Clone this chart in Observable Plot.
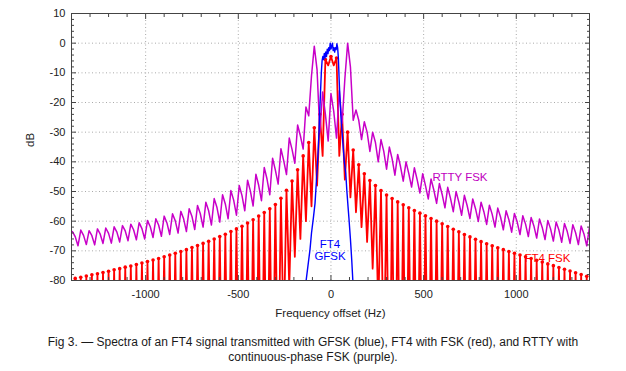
<!DOCTYPE html>
<html><head><meta charset="utf-8">
<script src="https://cdn.jsdelivr.net/npm/d3@7"></script>
<script src="https://cdn.jsdelivr.net/npm/@observablehq/plot@0.6"></script>
<style>
body{margin:0;background:#fff;font-family:"Liberation Sans",Arial,sans-serif;}
#caption{width:626px;text-align:center;font-size:12px;line-height:15px;color:#1a1a1a;}
</style></head><body>
<div id="chart"></div>
<div id="caption">Fig 3. — Spectra of an FT4 signal transmitted with GFSK (blue), FT4 with FSK (red), and RTTY with<br>continuous-phase FSK (purple).</div>
<script>
// Frequency bins (Hz) shared by the FT4-FSK and RTTY spectra
const gridHz = [
-1395,-1380,-1365,-1350,-1335,-1320,-1305,-1290,-1275,-1260,-1245,-1230,
-1215,-1200,-1185,-1170,-1155,-1140,-1125,-1110,-1095,-1080,-1065,-1050,
-1035,-1020,-1005,-990,-975,-960,-945,-930,-915,-900,-885,-870,
-855,-840,-825,-810,-795,-780,-765,-750,-735,-720,-705,-690,
-675,-660,-645,-630,-615,-600,-585,-570,-555,-540,-525,-510,
-495,-480,-465,-450,-435,-420,-405,-390,-375,-360,-345,-330,
-315,-300,-285,-270,-255,-240,-225,-210,-195,-180,-165,-150,
-135,-120,-105,-90,-75,-60,-45,-30,-15,0,15,30,
45,60,75,90,105,120,135,150,165,180,195,210,
225,240,255,270,285,300,315,330,345,360,375,390,
405,420,435,450,465,480,495,510,525,540,555,570,
585,600,615,630,645,660,675,690,705,720,735,750,
765,780,795,810,825,840,855,870,885,900,915,930,
945,960,975,990,1005,1020,1035,1050,1065,1080,1095,1110,
1125,1140,1155,1170,1185,1200,1215,1230,1245,1260,1275,1290,
1305,1320,1335,1350,1365,1380,1395];

// FT4 with FSK (red), dB (spectral nulls fall far below the -80 dB floor)
const ft4FskDb = [
-130,-79.3,-130,-78.9,-130,-78.5,-130,-78.1,-130,-77.7,-130,-77.3,
-130,-76.9,-130,-76.4,-130,-76.0,-130,-75.5,-130,-75.1,-130,-74.6,
-130,-74.1,-130,-73.6,-130,-73.1,-130,-72.6,-130,-72.0,-130,-71.4,
-130,-70.8,-130,-70.2,-130,-69.6,-130,-68.9,-130,-68.2,-130,-67.5,
-130,-66.8,-130,-66.0,-130,-65.2,-130,-64.4,-130,-63.5,-130,-62.6,
-130,-61.7,-130,-60.6,-130,-59.5,-130,-58.3,-130,-57.1,-130,-55.8,
-130,-54.4,-120,-52.3,-100,-49.6,-82,-46.5,-72,-42.7,-66,-38.0,
-60,-33.5,-55,-28.5,-48,-24.0,-38,-5.5,-7.5,-4.5,-7.5,-5.0,
-38,-24.0,-46,-30.0,-52,-36.0,-57,-41.0,-62,-44.0,-67,-46.3,
-76,-48.0,-90,-49.7,-110,-51.2,-130,-52.4,-130,-53.5,-130,-54.5,
-130,-55.5,-130,-56.4,-130,-57.3,-130,-58.2,-130,-59.1,-130,-60.0,
-130,-60.9,-130,-61.8,-130,-62.7,-130,-63.6,-130,-64.5,-130,-65.3,
-130,-66.1,-130,-66.9,-130,-67.6,-130,-68.3,-130,-69.0,-130,-69.6,
-130,-70.2,-130,-70.8,-130,-71.4,-130,-72.0,-130,-72.6,-130,-73.2,
-130,-73.8,-130,-74.4,-130,-75.0,-130,-75.6,-130,-76.2,-130,-76.8,
-130,-77.4,-130,-78.0,-130,-78.6,-130];

// RTTY continuous-phase FSK (purple), dB
const rttyDb = [
-63.5,-65.2,-68.3,-63.0,-64.8,-67.9,-63.2,-64.9,-68.0,-62.6,-64.4,-67.5,
-62.3,-64.1,-67.4,-61.9,-63.7,-67.0,-61.5,-63.3,-66.6,-61.0,-62.9,-66.3,
-60.5,-62.5,-66.0,-59.8,-61.9,-65.5,-59.2,-61.3,-65.1,-58.3,-60.6,-64.5,
-57.5,-59.9,-64.0,-56.7,-59.2,-63.5,-55.8,-58.4,-62.8,-54.7,-57.5,-62.0,
-53.6,-56.5,-61.3,-52.4,-55.4,-60.3,-51.1,-54.2,-59.2,-49.7,-52.9,-58.0,
-48.0,-51.4,-56.5,-46.2,-49.8,-54.9,-44.2,-47.9,-53.1,-41.9,-45.8,-51.1,
-38.8,-42.8,-47.5,-35.6,-39.6,-44.3,-32.0,-35.8,-40.5,-27.6,-31.2,-35.7,
-21.5,-24.5,-11.0,-1.0,-9.0,-30.0,-16.5,-24.0,-33.0,-17.0,-23.0,-32.0,
-16.0,-27.0,-12.0,0.0,-8.0,-26.0,-22.5,-26.0,-32.5,-26.5,-30.0,-36.5,
-30.0,-33.5,-40.0,-32.5,-36.5,-42.5,-35.0,-39.0,-44.5,-37.5,-41.5,-46.5,
-40.0,-44.0,-48.5,-42.0,-46.0,-50.5,-44.0,-48.0,-52.5,-45.8,-49.5,-54.0,
-47.3,-51.0,-55.5,-48.6,-52.3,-56.8,-50.0,-53.6,-58.0,-51.3,-54.8,-59.1,
-52.5,-55.8,-60.1,-53.6,-56.8,-61.1,-54.6,-57.7,-62.0,-55.6,-58.6,-62.9,
-56.5,-59.5,-63.7,-57.4,-60.3,-64.5,-58.2,-61.0,-65.2,-58.8,-61.6,-65.7,
-59.3,-62.1,-66.2,-59.8,-62.6,-66.7,-60.3,-63.0,-67.1,-60.8,-63.5,-67.5,
-61.2,-63.9,-67.9,-61.6,-64.3,-68.3,-62.0];

// FT4 with GFSK (blue)
const gfskHz = [-150,-134,-122,-113,-105,-95,-86,-80,-74,-68,-64,-60,-56,-52,-48,-44,-40,-36,-32,-28,
-24,-20,-16,-12,-8,-4,0,4,8,12,16,20,24,28,32,36,40,44,48,54,60,66,72,80,86,92,97,105,112,118,130];
const gfskDb = [-90,-80,-74,-69.5,-64,-59,-54,-48,-42,-35,-29,-22,-16,-10,-6,-4.5,-5.5,-3.5,-5,-3,
-4.5,-2,-3.5,-1.5,-2.5,0,-2,-1,0,-2.5,-1.5,-3,-1.5,-2.2,-0.2,-1.5,-5,-12,-18,-25,-30,-35,-40,-44,-50,-55,-59,-66,-73,-80,-90];

// Tick values
const xMajor = [-1000,-500,0,500,1000];
const xMinor = [-1300,-1200,-1100,-900,-800,-700,-600,-400,-300,-200,-100,100,200,300,400,600,700,800,900,1100,1200,1300];
const yMajor = [-80,-70,-60,-50,-40,-30,-20,-10,0,10];
const yMinor = [-78,-76,-74,-72,-68,-66,-64,-62,-58,-56,-54,-52,-48,-46,-44,-42,-38,-36,-34,-32,-28,-26,-24,-22,-18,-16,-14,-12,-8,-6,-4,-2,2,4,6,8];
const yGrid = [-70,-60,-50,-40,-30,-20,-10,0];

const fsk = gridHz.map((hz, i) => ({hz, db: ft4FskDb[i]}));
const fskPeaks = fsk.filter((d, i) => i % 2 === 1);
const rtty = gridHz.map((hz, i) => ({hz, db: rttyDb[i]}));
const gfsk = gfskHz.map((hz, i) => ({hz, db: gfskDb[i]}));

const tc = "#444";
const fmt = d => String(d);
const chart = Plot.plot({
  width: 626, height: 335,
  marginLeft: 71, marginRight: 37, marginTop: 13, marginBottom: 55,
  style: {fontFamily: '"Liberation Sans", Arial, sans-serif', fontSize: "11px", color: "#222", background: "#fff"},
  x: {domain: [-1400, 1395], label: null},
  y: {domain: [-80, 10], label: null},
  marks: [
    Plot.gridX(xMajor, {stroke: "#aaa", strokeOpacity: 1, strokeDasharray: "1,2.5"}),
    Plot.gridY(yGrid, {stroke: "#aaa", strokeOpacity: 1, strokeDasharray: "1,2.5"}),
    Plot.line(fsk, {x: "hz", y: "db", stroke: "#ff0000", strokeWidth: 1.8, clip: true}),
    Plot.dot(fskPeaks, {x: "hz", y: "db", r: 1.8, fill: "#ff0000", clip: true}),
    Plot.line(rtty, {x: "hz", y: "db", stroke: "#c800c8", strokeWidth: 1.5, clip: true}),
    Plot.line(gfsk, {x: "hz", y: "db", stroke: "#0000ff", strokeWidth: 1.4, clip: true}),
    Plot.frame({stroke: tc}),
    Plot.axisX(xMajor, {anchor: "bottom", tickSize: -5, fill: "none", stroke: tc, label: null}),
    Plot.axisX(xMinor, {anchor: "bottom", tickSize: -3, fill: "none", stroke: tc, label: null}),
    Plot.axisX(xMajor, {anchor: "top", tickSize: -5, fill: "none", stroke: tc, label: null}),
    Plot.axisX(xMinor, {anchor: "top", tickSize: -3, fill: "none", stroke: tc, label: null}),
    Plot.axisY(yMajor, {anchor: "left", tickSize: -5, fill: "none", stroke: tc, label: null}),
    Plot.axisY(yMinor, {anchor: "left", tickSize: -3, fill: "none", stroke: tc, label: null}),
    Plot.axisY(yMajor, {anchor: "right", tickSize: -5, fill: "none", stroke: tc, label: null}),
    Plot.axisY(yMinor, {anchor: "right", tickSize: -3, fill: "none", stroke: tc, label: null}),
    Plot.axisX(xMajor, {anchor: "bottom", tickSize: 0, tickPadding: 10, tickFormat: fmt, fill: "#222", label: null}),
    Plot.axisY(yMajor, {anchor: "left", tickSize: 0, tickPadding: 6, tickFormat: fmt, fill: "#222", label: null}),
    Plot.text(["Frequency offset (Hz)"], {frameAnchor: "bottom", dy: 36, fontSize: 11.5, fill: "#222"}),
    Plot.text(["dB"], {frameAnchor: "left", dx: -41, rotate: -90, fontSize: 11.5, fill: "#222"}),
    Plot.text(["RTTY FSK"], {x: 696, y: -45.3, fill: "#c000c0", fontSize: 11.5}),
    Plot.text(["FT4 FSK"], {x: 1168, y: -72.6, fill: "#ff0000", fontSize: 11.5}),
    Plot.text(["FT4\nGFSK"], {x: -5, y: -69.7, fill: "#0000ff", fontSize: 11.5, lineHeight: 1.05})
  ]
});
document.getElementById("chart").appendChild(chart);
</script>
</body></html>
